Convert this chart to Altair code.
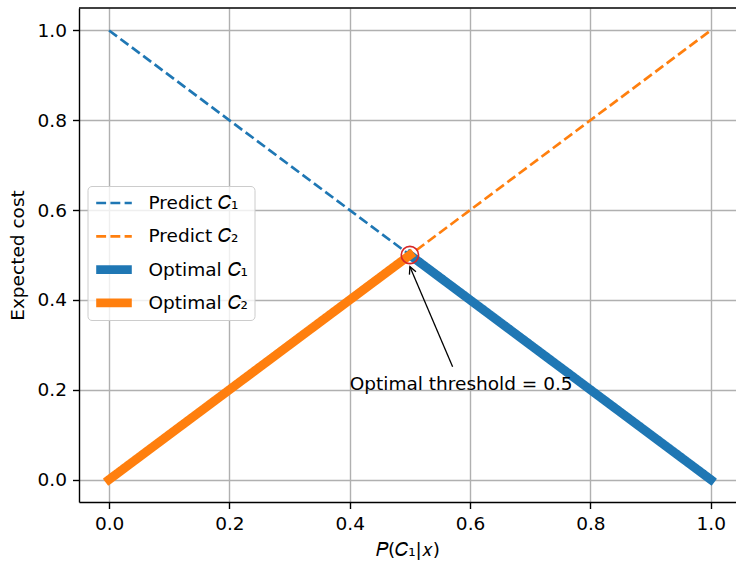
import math
import altair as alt
import pandas as pd

# ---- data -------------------------------------------------------------
series = ["Predict 𝐶₁", "Predict 𝐶₂", "Optimal 𝐶₁", "Optimal 𝐶₂"]
series_colors = ["#1f77b4", "#ff7f0e", "#1f77b4", "#ff7f0e"]

# each line: start and end point (P(C1|x), expected cost)
line_x = [[0.0, 1.0], [0.0, 1.0], [0.5, 1.0], [0.0, 0.5]]
line_y = [[1.0, 0.0], [0.0, 1.0], [0.5, 0.0], [0.0, 0.5]]

threshold = 0.5
threshold_cost = 0.5
note_text = "Optimal threshold = 0.5"
note_x, note_y = 0.4, 0.2            # text anchor (left, baseline)
arrow_tail = (0.571, 0.251)
arrow_tip = (0.5, 0.474)

tick_values = [0.0, 0.2, 0.4, 0.6, 0.8, 1.0]

# ---- geometry / style -------------------------------------------------
FONT = "DejaVu Sans"
FS = 18.5
W, H = 657, 494
X_DOM = [-0.05, 1.042]
Y_DOM = [-0.05, 1.05]
px_x = W / (X_DOM[1] - X_DOM[0])
px_y = H / (Y_DOM[1] - Y_DOM[0])

rows = []
for name, xs, ys in zip(series, line_x, line_y):
    for i, (xv, yv) in enumerate(zip(xs, ys)):
        rows.append({"series": name, "x": xv, "y": yv, "order": i})
lines = pd.DataFrame(rows)

x_scale = alt.Scale(domain=X_DOM, nice=False, zero=False)
y_scale = alt.Scale(domain=Y_DOM, nice=False, zero=False)

x_enc = alt.X("x:Q", scale=x_scale,
              axis=alt.Axis(values=tick_values, format=".1f", title="𝑃(𝐶₁|𝑥)"))
y_enc = alt.Y("y:Q", scale=y_scale,
              axis=alt.Axis(values=tick_values, format=".1f", title="Expected cost"))

legend = alt.Legend(title=None, orient="none", legendX=8.5, legendY=178)
dash_gap = [9.9, 4.3]
line_encoding = dict(
    x=x_enc,
    y=y_enc,
    order="order:Q",
    color=alt.Color("series:N", scale=alt.Scale(domain=series, range=series_colors),
                    legend=legend, sort=series),
    strokeDash=alt.StrokeDash("series:N",
                              scale=alt.Scale(domain=series,
                                              range=[dash_gap, dash_gap, [1, 0], [1, 0]]),
                              legend=legend, sort=series),
    strokeWidth=alt.StrokeWidth("series:N",
                                scale=alt.Scale(type="ordinal", domain=series,
                                                range=[2.67, 2.67, 8.9, 8.9]),
                                legend=legend, sort=series),
)

dashed_lines = alt.Chart(lines[lines["series"].isin(series[:2])]).mark_line(
    clip=True, strokeCap="butt"
).encode(**line_encoding)
thick_lines = alt.Chart(lines[lines["series"].isin(series[2:])]).mark_line(
    clip=True, strokeCap="square"
).encode(**line_encoding)

# top spine
top_spine = alt.Chart(pd.DataFrame({"y": [Y_DOM[1]]})).mark_rule(
    color="black", strokeWidth=1.4
).encode(y=alt.Y("y:Q", scale=y_scale))

# marker on the crossing point
marker = alt.Chart(pd.DataFrame({"x": [threshold], "y": [threshold_cost]})).mark_point(
    shape="circle", filled=False, color="#d62728", strokeWidth=1.6, size=300, opacity=1
).encode(x=alt.X("x:Q", scale=x_scale), y=alt.Y("y:Q", scale=y_scale))

# annotation arrow
arrow = alt.Chart(pd.DataFrame({
    "x": [arrow_tail[0]], "y": [arrow_tail[1]],
    "x2": [arrow_tip[0]], "y2": [arrow_tip[1]],
})).mark_rule(color="black", strokeWidth=1.3).encode(
    x=alt.X("x:Q", scale=x_scale), y=alt.Y("y:Q", scale=y_scale),
    x2="x2:Q", y2="y2:Q",
)
dx = (arrow_tip[0] - arrow_tail[0]) * px_x
dy = -(arrow_tip[1] - arrow_tail[1]) * px_y
head_angle = math.degrees(math.atan2(dx, -dy)) % 360
arrow_head = alt.Chart(pd.DataFrame({"x": [arrow_tip[0]], "y": [arrow_tip[1]]})).mark_point(
    shape="M-0.5,1L0,0L0.5,1", filled=False, color="black", strokeWidth=1.3,
    size=202, angle=head_angle, opacity=1,
).encode(x=alt.X("x:Q", scale=x_scale), y=alt.Y("y:Q", scale=y_scale))

note = alt.Chart(pd.DataFrame({"x": [note_x], "y": [note_y], "t": [note_text]})).mark_text(
    align="left", baseline="alphabetic", font=FONT, fontSize=FS, color="black"
).encode(x=alt.X("x:Q", scale=x_scale), y=alt.Y("y:Q", scale=y_scale), text="t:N")

chart = alt.layer(
    dashed_lines, thick_lines, top_spine, marker, arrow, arrow_head, note
).properties(
    width=W, height=H,
    autosize=alt.AutoSizeParams(type="none"),
    padding={"left": 79, "top": 8, "right": 0, "bottom": 67},
).configure_view(
    stroke=None
).configure_axis(
    labelFont=FONT, labelFontSize=FS, labelColor="black",
    titleFont=FONT, titleFontSize=FS, titleColor="black", titleFontWeight="normal",
    tickColor="black", tickWidth=1.4, tickSize=6.5,
    domainColor="black", domainWidth=1.4,
    gridColor="#b0b0b0", gridWidth=1.4, gridOpacity=1,
    labelPadding=6,
).configure_axisX(
    titlePadding=7,
).configure_axisY(
    titlePadding=10,
).configure_legend(
    labelFont=FONT, labelFontSize=FS, labelColor="black",
    fillColor="rgba(255,255,255,0.8)", strokeColor="#cccccc",
    cornerRadius=4, padding=6, rowPadding=11.3, clipHeight=22,
    symbolSize=1267, symbolOffset=-2, labelOffset=12, symbolType="stroke",
)

chart.save("out.html", embed_options={"renderer": "svg", "actions": False})
